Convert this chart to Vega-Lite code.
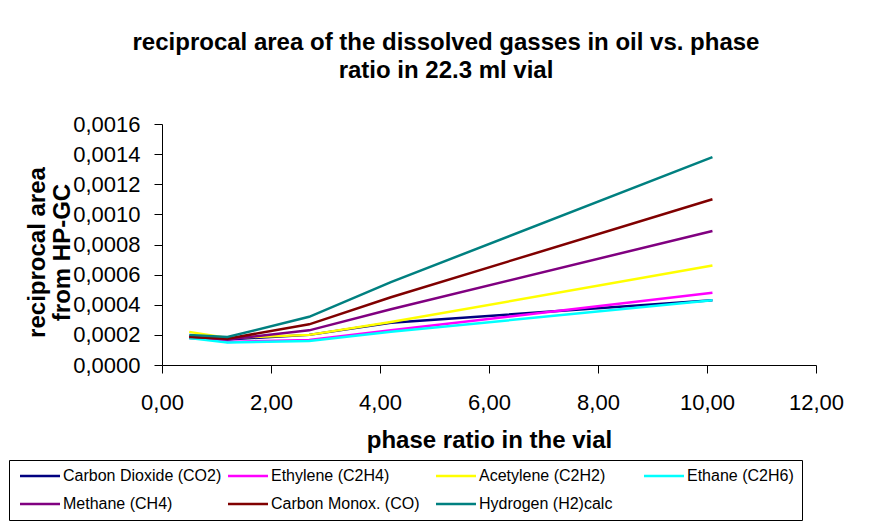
{
  "$schema": "https://vega.github.io/schema/vega-lite/v6.json",
  "autosize": "none",
  "width": 654,
  "height": 241,
  "padding": {"left": 162, "top": 124, "right": 57, "bottom": 159},
  "background": "white",
  "title": {
    "text": ["reciprocal area of the dissolved gasses in oil vs. phase", "ratio in 22.3 ml vial"],
    "font": "Liberation Sans",
    "fontSize": 24,
    "fontWeight": "bold",
    "color": "#000000",
    "anchor": "middle",
    "frame": "group",
    "dx": -43,
    "offset": 30,
    "lineHeight": 28
  },
  "data": {
    "values": [
      {"series": "Carbon Dioxide (CO2)", "x": 0.5, "y": 0.00018},
      {"series": "Carbon Dioxide (CO2)", "x": 1.2, "y": 0.00017},
      {"series": "Carbon Dioxide (CO2)", "x": 2.7, "y": 0.0002},
      {"series": "Carbon Dioxide (CO2)", "x": 4.2, "y": 0.00028},
      {"series": "Carbon Dioxide (CO2)", "x": 10.1, "y": 0.00043},
      {"series": "Ethylene (C2H4)", "x": 0.5, "y": 0.00019},
      {"series": "Ethylene (C2H4)", "x": 1.2, "y": 0.000153},
      {"series": "Ethylene (C2H4)", "x": 2.7, "y": 0.000166},
      {"series": "Ethylene (C2H4)", "x": 4.2, "y": 0.00023},
      {"series": "Ethylene (C2H4)", "x": 10.1, "y": 0.00048},
      {"series": "Acetylene (C2H2)", "x": 0.5, "y": 0.00022},
      {"series": "Acetylene (C2H2)", "x": 1.2, "y": 0.00018},
      {"series": "Acetylene (C2H2)", "x": 2.7, "y": 0.0002},
      {"series": "Acetylene (C2H2)", "x": 4.2, "y": 0.000285},
      {"series": "Acetylene (C2H2)", "x": 10.1, "y": 0.00066},
      {"series": "Ethane (C2H6)", "x": 0.5, "y": 0.00018},
      {"series": "Ethane (C2H6)", "x": 1.2, "y": 0.00015},
      {"series": "Ethane (C2H6)", "x": 2.7, "y": 0.00016},
      {"series": "Ethane (C2H6)", "x": 4.2, "y": 0.00022},
      {"series": "Ethane (C2H6)", "x": 10.1, "y": 0.00043},
      {"series": "Methane (CH4)", "x": 0.5, "y": 0.00019},
      {"series": "Methane (CH4)", "x": 1.2, "y": 0.00017},
      {"series": "Methane (CH4)", "x": 2.7, "y": 0.00023},
      {"series": "Methane (CH4)", "x": 4.2, "y": 0.00037},
      {"series": "Methane (CH4)", "x": 10.1, "y": 0.00089},
      {"series": "Carbon Monox. (CO)", "x": 0.5, "y": 0.000186},
      {"series": "Carbon Monox. (CO)", "x": 1.2, "y": 0.000175},
      {"series": "Carbon Monox. (CO)", "x": 2.7, "y": 0.00027},
      {"series": "Carbon Monox. (CO)", "x": 4.2, "y": 0.00045},
      {"series": "Carbon Monox. (CO)", "x": 10.1, "y": 0.0011},
      {"series": "Hydrogen (H2)calc", "x": 0.5, "y": 0.0002},
      {"series": "Hydrogen (H2)calc", "x": 1.2, "y": 0.000186},
      {"series": "Hydrogen (H2)calc", "x": 2.7, "y": 0.00032},
      {"series": "Hydrogen (H2)calc", "x": 4.2, "y": 0.00055},
      {"series": "Hydrogen (H2)calc", "x": 10.1, "y": 0.00138}
    ]
  },
  "mark": {"type": "line", "strokeWidth": 2.5},
  "encoding": {
    "x": {
      "field": "x",
      "type": "quantitative",
      "scale": {"domain": [0, 12], "nice": false, "zero": true},
      "axis": {
        "values": [0, 2, 4, 6, 8, 10, 12],
        "labelExpr": "replace(format(datum.value, '.2f'), '.', ',')",
        "title": "phase ratio in the vial",
        "grid": false,
        "domainColor": "#000000",
        "tickColor": "#000000",
        "tickSize": 8,
        "labelFont": "Liberation Sans",
        "labelFontSize": 22,
        "labelColor": "#000000",
        "labelPadding": 19,
        "labelFlush": false,
        "titleFont": "Liberation Sans",
        "titleFontSize": 24,
        "titleFontWeight": "bold",
        "titleColor": "#000000",
        "titlePadding": 15
      }
    },
    "y": {
      "field": "y",
      "type": "quantitative",
      "scale": {"domain": [0, 0.0016], "nice": false},
      "axis": {
        "values": [0, 0.0002, 0.0004, 0.0006, 0.0008, 0.001, 0.0012, 0.0014, 0.0016],
        "labelExpr": "replace(format(datum.value, '.4f'), '.', ',')",
        "title": ["reciprocal area", "from HP-GC"],
        "grid": false,
        "domainColor": "#000000",
        "tickColor": "#000000",
        "tickSize": 8,
        "labelFont": "Liberation Sans",
        "labelFontSize": 22,
        "labelColor": "#000000",
        "labelPadding": 14,
        "labelFlush": false,
        "titleFont": "Liberation Sans",
        "titleFontSize": 24,
        "titleFontWeight": "bold",
        "titleColor": "#000000",
        "titleAngle": -90,
        "titleX": -125,
        "titleY": 128,
        "titleAlign": "center",
        "titleBaseline": "middle",
        "titleLineHeight": 25
      }
    },
    "color": {
      "field": "series",
      "type": "nominal",
      "scale": {
        "domain": ["Carbon Dioxide (CO2)", "Ethylene (C2H4)", "Acetylene (C2H2)", "Ethane (C2H6)", "Methane (CH4)", "Carbon Monox. (CO)", "Hydrogen (H2)calc"],
        "range": ["#000080", "#FF00FF", "#FFFF00", "#00FFFF", "#800080", "#800000", "#008080"]
      },
      "legend": {
        "title": null,
        "orient": "none",
        "legendX": -153,
        "legendY": 336,
        "direction": "horizontal",
        "columns": 4,
        "gridAlign": "all",
        "columnPadding": 1,
        "rowPadding": 12,
        "symbolType": "M-1,0H7",
        "symbolSize": 100,
        "symbolStrokeWidth": 2.5,
        "labelFont": "Liberation Sans",
        "labelFontSize": 16,
        "labelColor": "#000000",
        "labelOffset": 30,
        "labelLimit": 300,
        "strokeColor": "#000000",
        "padding": 8
      }
    }
  },
  "config": {
    "view": {"stroke": null}
  }
}
